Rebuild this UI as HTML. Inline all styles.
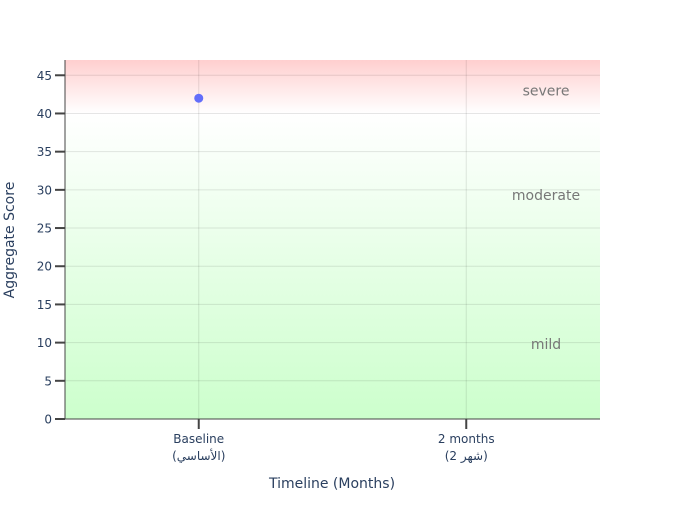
<!DOCTYPE html>
<html><head><meta charset="utf-8"><style>
body{margin:0;background:#fff}
svg{font-family:"DejaVu Sans","Liberation Sans",sans-serif}
</style></head><body>
<svg id="chart" width="700" height="500">
<defs>
<linearGradient id="gRed" x1="0" y1="0" x2="0" y2="1"><stop offset="0" stop-color="#ffcfcf"/><stop offset="1" stop-color="#ffffff"/></linearGradient>
<linearGradient id="gGreen" x1="0" y1="0" x2="0" y2="1"><stop offset="0" stop-color="#ffffff"/><stop offset="1" stop-color="#ccffcc"/></linearGradient>
</defs>
</svg>
<script>
const categories=["Baseline","2 months"];
const categorySub=["(الأساسي)","(شهر 2)"];
const scores=[42,null];
const yTicks=[0,5,10,15,20,25,30,35,40,45];
const bands=[{name:"severe",label:"severe",ly:43},{name:"moderate",label:"moderate",ly:29.3},{name:"mild",label:"mild",ly:9.8}];
const L=65,R=600,T=60,B=419,yMax=47;
const y=v=>B-(v/yMax)*(B-T);
const x=i=>L+(i+0.5)*(R-L)/categories.length;
const svg=document.getElementById('chart');
const NS='http://www.w3.org/2000/svg';
function mk(t,a,txt){const e=document.createElementNS(NS,t);for(const k in a)e.setAttribute(k,a[k]);if(txt!=null)e.textContent=txt;svg.appendChild(e);return e;}
let e;
e=mk('rect',{x:L,y:y(47),width:R-L,height:y(40)-y(47),fill:'url(#gRed)'});


e=mk('rect',{x:L,y:y(40),width:R-L,height:y(0)-y(40),fill:'url(#gGreen)'});


yTicks.forEach(v=>{
 e=mk('line',{x1:L,x2:R,y1:y(v),y2:y(v),stroke:'#000','stroke-opacity':0.1,'stroke-width':1});
 
 
 e=mk('line',{x1:L-10,x2:L,y1:y(v),y2:y(v),stroke:'#444','stroke-width':2});
 
 
 e=mk('text',{x:L-13,y:y(v)+4.5,'text-anchor':'end','font-size':12,fill:'#2a3f5f'},v);
 
 
});
categories.forEach((c,i)=>{
 e=mk('line',{x1:x(i),x2:x(i),y1:T,y2:B,stroke:'#000','stroke-opacity':0.1});
 
 
 e=mk('line',{x1:x(i),x2:x(i),y1:B,y2:B+10,stroke:'#444','stroke-width':2});
 
 
 e=mk('text',{x:x(i),y:B+24,'text-anchor':'middle','font-size':12,fill:'#2a3f5f'},c);
 
 
 e=mk('text',{x:x(i),y:B+41,'text-anchor':'middle','font-size':12,fill:'#2a3f5f'},categorySub[i]);
 
 
});
e=mk('line',{x1:L,x2:L,y1:T,y2:B,stroke:'#444','stroke-width':1});


e=mk('line',{x1:L,x2:R,y1:B,y2:B,stroke:'#444','stroke-width':1});


bands.forEach(b=>{
 e=mk('text',{x:546,y:y(b.ly)+5,'text-anchor':'middle','font-size':14,fill:'#777'},b.label);
 
 
});
scores.forEach((s,i)=>{
 if(s==null)return;
 e=mk('circle',{cx:x(i),cy:y(s),r:4.5,fill:'#636efa'});
 
 
});
e=mk('text',{x:332,y:488,'text-anchor':'middle','font-size':14,fill:'#2a3f5f'},'Timeline (Months)');


e=mk('text',{x:14,y:240,'text-anchor':'middle','font-size':14,fill:'#2a3f5f',transform:'rotate(-90 14 240)'},'Aggregate Score');


</script>
</body></html>
